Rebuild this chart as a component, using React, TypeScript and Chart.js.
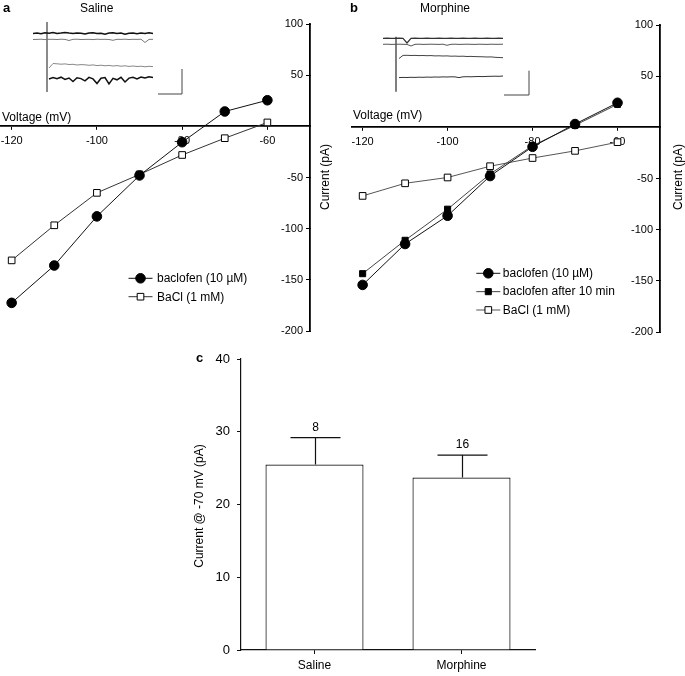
import React, { useEffect, useRef } from 'react';
import { Chart, registerables } from 'chart.js';

Chart.register(...registerables);

const FONT = '"Liberation Sans", Arial, Helvetica, sans-serif';

// ---------- Panel a / b : I-V curves ----------
const VOLTAGES = [-120, -110, -100, -90, -80, -70, -60];
const X_TICKS = [-120, -100, -80, -60];
const Y_TICKS = [100, 50, -50, -100, -150, -200];

const SALINE_BACLOFEN = [-172.5, -136, -88, -48, -15.5, 14.5, 25.5];
const SALINE_BACL = [-131, -96.7, -65, -47, -28, -11.6, 3.8];

const MORPHINE_BACLOFEN = [-154, -114, -86.4, -47.6, -19, 3.2, 24];
const MORPHINE_AFTER10 = [-143, -110.4, -80, -45.6, -18, 2, 22.5];
const MORPHINE_BACL = [-67, -54.7, -49, -38, -30, -23, -14.5];

// ---------- Panel c : bars ----------
const BAR_LABELS = ['Saline', 'Morphine'];
const BAR_MEANS = [25.5, 23.7];
const BAR_SEM = [3.7, 3.1];
const BAR_N = [8, 16];
const BAR_Y_TICKS = [0, 10, 20, 30, 40];

// ---------- Inset traces (time in ms, current in pA offsets) ----------
const INSET_T = [0, 4, 8, 12, 16, 20, 24, 28, 32, 36, 40, 44, 48, 52, 56, 60, 64, 68, 72, 76, 80, 84, 88, 92, 96, 100, 104, 108, 112, 116, 120];

const SAL_TRACE1 = [-13.5, -13.0, -13.8, -12.8, -13.2, -12.6, -13.4, -13.0, -12.4, -13.1, -13.6, -12.9, -13.3, -14.0, -13.0, -12.7, -13.5, -13.2, -14.2, -13.1, -12.8, -13.6, -13.0, -14.3, -13.2, -12.9, -13.7, -13.1, -13.4, -12.8, -13.6];
const SAL_TRACE2 = [-19.5, -19.4, -19.2, -19.6, -19.3, -19.3, -19.5, -19.2, -19.4, -20.5, -19.3, -19.2, -19.5, -19.4, -19.3, -19.6, -19.2, -19.4, -19.3, -19.5, -20.3, -19.3, -19.4, -19.2, -19.5, -19.3, -19.4, -19.2, -22.5, -19.4, -19.3];
const SAL_TRACE3 = [null, null, null, null, -48, -43.5, -43.8, -44.2, -43.9, -44.5, -44.3, -45.0, -44.6, -44.8, -45.3, -44.9, -45.6, -45.2, -45.8, -45.4, -46.0, -45.6, -46.2, -45.8, -46.4, -46.0, -46.5, -46.2, -46.8, -46.3, -46.6];
const SAL_TRACE4 = [null, null, null, null, -59, -57.5, -58.8, -57.2, -59.5, -58.0, -61.5, -57.8, -58.6, -60.8, -57.4, -58.9, -63.5, -58.2, -57.6, -64.0, -58.4, -59.8, -57.3, -62.0, -58.1, -57.2, -58.9, -57.0, -58.0, -56.8, -57.5];
const SAL_ARTIFACT_T = 14;
const SAL_ARTIFACT = [-2, -72];
const SAL_SCALEBAR_T = [125, 149, 149];
const SAL_SCALEBAR = [-74, -74, -49];

const MOR_TRACE1 = [-18.3, -18.2, -18.4, -18.3, -18.2, -18.4, -23.0, -18.3, -18.2, -18.4, -18.3, -18.2, -18.3, -18.4, -18.2, -18.3, -18.4, -18.2, -18.3, -18.3, -18.2, -18.4, -18.3, -18.2, -18.3, -18.4, -18.2, -18.3, -18.3, -18.2, -18.3];
const MOR_TRACE2 = [-24.3, -24.2, -24.4, -24.3, -24.2, -24.3, -24.4, -26.0, -24.3, -24.2, -24.4, -24.3, -24.2, -24.3, -24.4, -24.2, -25.3, -24.3, -24.2, -24.4, -24.3, -24.2, -24.3, -24.4, -24.2, -24.3, -24.4, -24.2, -24.3, -24.3, -24.2];
const MOR_TRACE3 = [null, null, null, null, -38.5, -35.4, -35.3, -35.5, -35.4, -35.6, -35.5, -35.7, -35.6, -35.9, -35.8, -36.0, -35.9, -36.2, -36.1, -36.3, -36.2, -36.5, -36.4, -36.6, -36.7, -36.8, -37.0, -36.9, -37.3, -37.5, -37.7];
const MOR_TRACE4 = [null, null, null, null, -57.6, -57.4, -57.5, -57.3, -57.4, -57.2, -57.3, -57.1, -57.2, -57.0, -57.1, -56.9, -57.0, -56.8, -56.9, -57.6, -56.8, -56.7, -56.8, -56.6, -56.5, -56.6, -56.4, -56.3, -56.2, -56.3, -56.0];
const MOR_ARTIFACT_T = 13;
const MOR_ARTIFACT = [-16.7, -71.7];
const MOR_SCALEBAR_T = [121, 146, 146];
const MOR_SCALEBAR = [-75, -75, -50.7];

// ---------- helpers ----------
const pts = (xs: number[], ys: (number | null)[]) =>
  xs.map((x, i) => ({ x, y: ys[i] })).filter((p) => p.y !== null);

const zeroPad = (s: any) => {
  s.paddingLeft = 0;
  s.paddingRight = 0;
  s.paddingTop = 0;
  s.paddingBottom = 0;
};

function drawMarker(ctx: CanvasRenderingContext2D, style: string, x: number, y: number, r: number, fill: string, stroke: string, bw: number) {
  ctx.beginPath();
  if (style === 'rect') {
    const s = r * Math.SQRT1_2;
    ctx.rect(x - s, y - s, 2 * s, 2 * s);
  } else {
    ctx.arc(x, y, r, 0, Math.PI * 2);
  }
  ctx.fillStyle = fill;
  ctx.fill();
  ctx.lineWidth = bw;
  ctx.strokeStyle = stroke;
  ctx.stroke();
}

const insideLegend = {
  id: 'insideLegend',
  afterDraw(chart: any, _args: any, opts: any) {
    if (!opts || opts.x === undefined) return;
    const ctx = chart.ctx as CanvasRenderingContext2D;
    ctx.save();
    chart.data.datasets.forEach((ds: any, i: number) => {
      const y = opts.y + i * opts.rowH;
      const x = opts.x;
      ctx.strokeStyle = ds.borderColor;
      ctx.lineWidth = ds.borderWidth;
      ctx.beginPath();
      ctx.moveTo(x - 12, y);
      ctx.lineTo(x + 12, y);
      ctx.stroke();
      drawMarker(ctx, ds.pointStyle, x, y, ds.pointRadius, ds.pointBackgroundColor, ds.pointBorderColor, ds.pointBorderWidth);
      ctx.fillStyle = '#000';
      ctx.font = '12px ' + FONT;
      ctx.textAlign = 'left';
      ctx.textBaseline = 'middle';
      ctx.fillText(ds.label, x + opts.textOffset, y + 0.5);
    });
    ctx.restore();
  },
};

const errorBars = {
  id: 'errorBars',
  afterDatasetsDraw(chart: any, _args: any, opts: any) {
    if (!opts || opts.capHalf === undefined) return;
    const meta = chart.getDatasetMeta(0);
    const ys = chart.scales.y;
    const ctx = chart.ctx as CanvasRenderingContext2D;
    ctx.save();
    ctx.strokeStyle = '#111';
    ctx.lineWidth = 1.2;
    meta.data.forEach((bar: any, i: number) => {
      const top = ys.getPixelForValue(BAR_MEANS[i] + BAR_SEM[i]);
      const x = Math.round(bar.x) + 0.5;
      ctx.beginPath();
      ctx.moveTo(x, bar.y);
      ctx.lineTo(x, top);
      ctx.moveTo(x - opts.capHalf, top);
      ctx.lineTo(x + opts.capHalf, top);
      ctx.stroke();
      ctx.fillStyle = '#000';
      ctx.font = '12px ' + FONT;
      ctx.textAlign = 'center';
      ctx.textBaseline = 'bottom';
      ctx.fillText(String(BAR_N[i]), x, top - 4);
    });
    ctx.restore();
  },
};

function ivConfig(datasets: any[], padding: any, legend: any) {
  return {
    type: 'line',
    data: { datasets },
    plugins: [insideLegend],
    options: {
      animation: false,
      responsive: false,
      events: [],
      layout: { padding, autoPadding: false },
      plugins: { legend: { display: false }, tooltip: { enabled: false }, insideLegend: legend },
      scales: {
        x: {
          type: 'linear',
          min: -122.5,
          max: -50,
          position: { y: 0 },
          afterBuildTicks: (s: any) => { s.ticks = X_TICKS.map((v) => ({ value: v })); },
          afterFit: (s: any) => { s.height = 0; zeroPad(s); },
          grid: { drawOnChartArea: false, drawTicks: true, tickLength: 3, color: '#000', lineWidth: 1 },
          border: { display: true, color: '#000', width: 1.8 },
          ticks: { padding: 5, color: '#000', font: { size: 11, family: FONT }, maxRotation: 0, autoSkip: false, callback: (v: any) => String(v) },
        },
        y: {
          type: 'linear',
          min: -200,
          max: 100,
          position: 'right',
          afterBuildTicks: (s: any) => { s.ticks = Y_TICKS.map((v) => ({ value: v })); },
          afterFit: (s: any) => { s.width = 0; zeroPad(s); },
          grid: { drawOnChartArea: false, drawTicks: true, tickLength: -4, color: '#000', lineWidth: 1 },
          border: { display: true, color: '#000', width: 1.8 },
          ticks: { mirror: true, padding: -7, color: '#000', font: { size: 11, family: FONT }, autoSkip: false, callback: (v: any) => String(v) },
        },
      },
    },
  };
}

function lineDs(label: string, ys: number[], style: string, fill: string, lineColor: string, r: number) {
  return {
    label,
    data: pts(VOLTAGES, ys),
    borderColor: lineColor,
    borderWidth: 1,
    pointStyle: style,
    pointRadius: r,
    pointBackgroundColor: fill,
    pointBorderColor: '#000',
    pointBorderWidth: 1,
    tension: 0,
    clip: false,
  };
}

function traceDs(ys: (number | null)[], xs: number[], color: string, w: number) {
  return { data: pts(xs, ys), borderColor: color, borderWidth: w, pointRadius: 0, tension: 0, clip: false };
}

function insetConfig(datasets: any[]) {
  return {
    type: 'line',
    data: { datasets },
    options: {
      animation: false,
      responsive: false,
      events: [],
      layout: { padding: 0, autoPadding: false },
      plugins: { legend: { display: false }, tooltip: { enabled: false } },
      scales: {
        x: { type: 'linear', display: false, min: 0, max: 155 },
        y: { type: 'linear', display: false, min: -80, max: 0 },
      },
    },
  };
}

const abs = (left: number, top: number, extra: any = {}) => ({ position: 'absolute' as const, left, top, ...extra });
const txt = (left: number, top: number, s: string, extra: any = {}) => (
  <div style={{ ...abs(left, top), font: '12px ' + FONT, color: '#000', whiteSpace: 'nowrap', lineHeight: '14px', ...extra }}>{s}</div>
);
const vtxt = (cx: number, cy: number, s: string) => (
  <div style={{ ...abs(cx, cy), font: '12px ' + FONT, color: '#000', whiteSpace: 'nowrap', lineHeight: '14px', transform: 'translate(-50%, -50%) rotate(-90deg)' }}>{s}</div>
);

export default function App() {
  const aRef = useRef<HTMLCanvasElement>(null);
  const bRef = useRef<HTMLCanvasElement>(null);
  const cRef = useRef<HTMLCanvasElement>(null);
  const iaRef = useRef<HTMLCanvasElement>(null);
  const ibRef = useRef<HTMLCanvasElement>(null);

  useEffect(() => {
    const charts: Chart[] = [];
    charts.push(new Chart(aRef.current!, ivConfig([
      lineDs('baclofen (10 \u00b5M)', SALINE_BACLOFEN, 'circle', '#000', '#111', 4.8),
      lineDs('BaCl (1 mM)', SALINE_BACL, 'rect', '#fff', '#333', 4.7),
    ], { left: 1, right: 30, top: 24, bottom: 9 }, { x: 140.5, y: 278.3, rowH: 18.4, textOffset: 16.5 }) as any));

    charts.push(new Chart(bRef.current!, ivConfig([
      lineDs('baclofen (10 \u00b5M)', MORPHINE_BACLOFEN, 'circle', '#000', '#111', 4.8),
      lineDs('baclofen after 10 min', MORPHINE_AFTER10, 'rect', '#000', '#444', 4.3),
      lineDs('BaCl (1 mM)', MORPHINE_BACL, 'rect', '#fff', '#555', 4.7),
    ], { left: 7, right: 25, top: 25, bottom: 8 }, { x: 143.3, y: 273.3, rowH: 18.35, textOffset: 14.5 }) as any));

    charts.push(new Chart(cRef.current!, {
      type: 'bar',
      data: {
        labels: BAR_LABELS,
        datasets: [{ data: BAR_MEANS, backgroundColor: '#fff', borderColor: '#111', borderWidth: 1.2, barPercentage: 0.667, categoryPercentage: 1 }],
      },
      plugins: [errorBars],
      options: {
        animation: false,
        responsive: false,
        events: [],
        layout: { padding: { left: 11, right: 15, top: 9, bottom: 4 } },
        plugins: { legend: { display: false }, tooltip: { enabled: false }, errorBars: { capHalf: 25 } } as any,
        scales: {
          x: {
            afterFit: (s: any) => { s.height = 22; zeroPad(s); },
            grid: { drawOnChartArea: false, drawTicks: true, tickLength: 4, color: '#111', offset: false },
            border: { display: true, color: '#111', width: 1.2 },
            ticks: { padding: 4, color: '#000', font: { size: 12, family: FONT } },
          },
          y: {
            min: 0,
            max: 40,
            afterBuildTicks: (s: any) => { s.ticks = BAR_Y_TICKS.map((v) => ({ value: v })); },
            afterFit: (s: any) => { s.width = 50; zeroPad(s); },
            grid: { drawOnChartArea: false, drawTicks: true, tickLength: 4, color: '#111' },
            border: { display: true, color: '#111', width: 1.2 },
            ticks: { padding: 7, color: '#000', font: { size: 13, family: FONT }, callback: (v: any) => String(v) },
          },
        },
      },
    } as any));

    charts.push(new Chart(iaRef.current!, insetConfig([
      traceDs(SAL_TRACE1, INSET_T, '#111', 1.5),
      traceDs(SAL_TRACE2, INSET_T, '#777', 1),
      traceDs(SAL_TRACE3, INSET_T, '#888', 1),
      traceDs(SAL_TRACE4, INSET_T, '#111', 1.5),
      traceDs(SAL_ARTIFACT, [SAL_ARTIFACT_T, SAL_ARTIFACT_T], '#666', 1.5),
      traceDs(SAL_SCALEBAR, SAL_SCALEBAR_T, '#444', 1),
    ]) as any));

    charts.push(new Chart(ibRef.current!, insetConfig([
      traceDs(MOR_TRACE1, INSET_T, '#333', 1.2),
      traceDs(MOR_TRACE2, INSET_T, '#555', 1),
      traceDs(MOR_TRACE3, INSET_T, '#444', 1),
      traceDs(MOR_TRACE4, INSET_T, '#333', 1),
      traceDs(MOR_ARTIFACT, [MOR_ARTIFACT_T, MOR_ARTIFACT_T], '#555', 1.5),
      traceDs(MOR_SCALEBAR, MOR_SCALEBAR_T, '#444', 1),
    ]) as any));

    return () => charts.forEach((c) => c.destroy());
  }, []);

  return (
    <div style={{ position: 'absolute', left: 0, top: 0, width: 685, height: 676, background: '#fff', overflow: 'hidden' }}>
      <canvas ref={aRef} width={340} height={340} style={abs(0, 0, { width: 340, height: 340 })} />
      <canvas ref={bRef} width={340} height={340} style={abs(345, 0, { width: 340, height: 340 })} />
      <canvas ref={cRef} width={370} height={326} style={abs(180, 350, { width: 370, height: 326 })} />
      <canvas ref={iaRef} width={155} height={80} style={abs(33, 20, { width: 155, height: 80 })} />
      <canvas ref={ibRef} width={155} height={80} style={abs(383, 20, { width: 155, height: 80 })} />

      {txt(3, 1, 'a', { fontWeight: 'bold', fontSize: 13 })}
      {txt(80, 1, 'Saline')}
      {txt(350, 1, 'b', { fontWeight: 'bold', fontSize: 13 })}
      {txt(420, 1, 'Morphine')}
      {txt(196, 351, 'c', { fontWeight: 'bold', fontSize: 13 })}

      {txt(2, 110, 'Voltage (mV)')}
      {txt(353, 108, 'Voltage (mV)')}
      {vtxt(325, 177, 'Current (pA)')}
      {vtxt(678, 177, 'Current (pA)')}
      {vtxt(199, 506, 'Current @ -70 mV (pA)')}
    </div>
  );
}
